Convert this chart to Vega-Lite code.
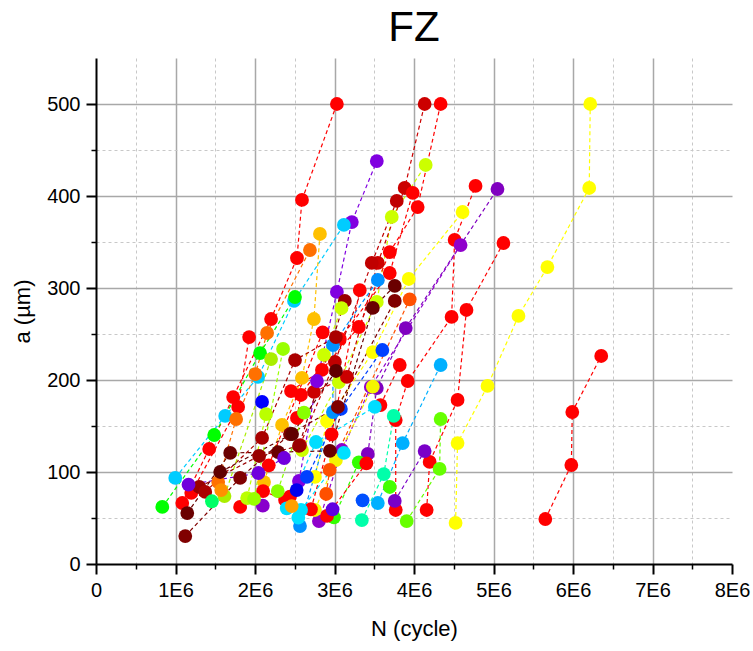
{
  "$schema": "https://vega.github.io/schema/vega-lite/v6.json",
  "width": 636,
  "height": 506,
  "autosize": "none",
  "padding": {"left": 96, "top": 58, "right": 21, "bottom": 87},
  "background": "white",
  "title": {"text": "FZ", "fontSize": 42, "fontWeight": "normal", "font": "Liberation Sans", "color": "black", "anchor": "middle", "frame": "group", "baseline": "bottom", "offset": -34},
  "config": {
    "view": {"stroke": null},
    "axis": {"labelFont": "Liberation Sans", "titleFont": "Liberation Sans", "labelColor": "black", "titleColor": "black", "titleFontWeight": "normal"}
  },
  "data": {"values": [
    {"s":"s1","N":4523000,"a":44.6},{"s":"s1","N":4548000,"a":131.5},{"s":"s1","N":4925000,"a":193.5},{"s":"s1","N":5314000,"a":269.6},{"s":"s1","N":5678000,"a":322.8},{"s":"s1","N":6204000,"a":408.7},{"s":"s1","N":6217000,"a":500},
    {"s":"s2","N":5652000,"a":48.9},{"s":"s2","N":5979000,"a":107.6},{"s":"s2","N":5991000,"a":165.2},{"s":"s2","N":6355000,"a":226.1},
    {"s":"s3","N":4159000,"a":58.7},{"s":"s3","N":4197000,"a":110.9},{"s":"s3","N":4548000,"a":178.3},{"s":"s3","N":4660000,"a":276.1},{"s":"s3","N":5125000,"a":348.9},
    {"s":"s4","N":3770000,"a":58.7},{"s":"s4","N":3770000,"a":156.5},{"s":"s4","N":3921000,"a":198.9},{"s":"s4","N":4473000,"a":268.5},{"s":"s4","N":4511000,"a":352.2},{"s":"s4","N":4774000,"a":410.9},
    {"s":"s5","N":3419000,"a":119.6},{"s":"s5","N":3532000,"a":191.3},{"s":"s5","N":3896000,"a":256.5},{"s":"s5","N":5050000,"a":407.6},
    {"s":"s6","N":2804000,"a":46.7},{"s":"s6","N":3093000,"a":123.9},{"s":"s6","N":3457000,"a":192.4},{"s":"s6","N":4586000,"a":346.7},
    {"s":"s7","N":3758000,"a":68.5},{"s":"s7","N":4134000,"a":122.8},
    {"s":"s8","N":2754000,"a":94.6},{"s":"s8","N":2905000,"a":155.4},{"s":"s8","N":3482000,"a":230.4},{"s":"s8","N":3934000,"a":309.8},{"s":"s8","N":4611000,"a":382.6},
    {"s":"s9","N":2754000,"a":58.7},{"s":"s9","N":3018000,"a":113},{"s":"s9","N":3482000,"a":192.7},
    {"s":"s10","N":2591000,"a":123.9},{"s":"s10","N":3055000,"a":197.8},{"s":"s10","N":3532000,"a":284.8},{"s":"s10","N":3720000,"a":377.2},{"s":"s10","N":4147000,"a":433.7},
    {"s":"s11","N":2453000,"a":188},{"s":"s11","N":2842000,"a":210.9},{"s":"s11","N":3306000,"a":257.6},{"s":"s11","N":3695000,"a":339.1},{"s":"s11","N":4046000,"a":388},{"s":"s11","N":4335000,"a":500},
    {"s":"s12","N":2741000,"a":187},{"s":"s12","N":3156000,"a":203.3},{"s":"s12","N":3545000,"a":327.2},{"s":"s12","N":3883000,"a":408.7},{"s":"s12","N":4134000,"a":500},
    {"s":"s13","N":2528000,"a":158.7},{"s":"s13","N":2578000,"a":183.7},{"s":"s13","N":3067000,"a":244.6},{"s":"s13","N":3695000,"a":316.3},{"s":"s13","N":3984000,"a":403.3},
    {"s":"s14","N":2566000,"a":129.3},{"s":"s14","N":3005000,"a":219.6},{"s":"s14","N":3469000,"a":327.2},{"s":"s14","N":3783000,"a":394.6},
    {"s":"s15","N":1085000,"a":66.3},{"s":"s15","N":1424000,"a":125},{"s":"s15","N":1725000,"a":181.5},{"s":"s15","N":2202000,"a":266.3},{"s":"s15","N":2528000,"a":332.6},{"s":"s15","N":2591000,"a":395.7},{"s":"s15","N":3030000,"a":500},
    {"s":"s16","N":1198000,"a":77.2},{"s":"s16","N":1788000,"a":170.7},{"s":"s16","N":1926000,"a":246.7},
    {"s":"s17","N":2553000,"a":90.2},{"s":"s17","N":2779000,"a":198.9},{"s":"s17","N":3030000,"a":295.7},{"s":"s17","N":3218000,"a":371.7},{"s":"s17","N":3532000,"a":438},
    {"s":"s18","N":997000,"a":93.5},{"s":"s18","N":1625000,"a":160.9},{"s":"s18","N":2039000,"a":203.3},{"s":"s18","N":2491000,"a":285.9},{"s":"s18","N":3118000,"a":368.5},
    {"s":"s19","N":2114000,"a":89.1},{"s":"s19","N":2340000,"a":151.1},{"s":"s19","N":2591000,"a":202.2},{"s":"s19","N":2741000,"a":266.3},{"s":"s19","N":2817000,"a":358.7},
    {"s":"s20","N":1537000,"a":89.1},{"s":"s20","N":1763000,"a":157.6},{"s":"s20","N":2004000,"a":206.5},{"s":"s20","N":2152000,"a":251.1},{"s":"s20","N":2691000,"a":341.3},
    {"s":"s21","N":834000,"a":62},{"s":"s21","N":1487000,"a":140.2},{"s":"s21","N":2064000,"a":229.3},{"s":"s21","N":2503000,"a":290.2},
    {"s":"s22","N":2566000,"a":41.3},{"s":"s22","N":2980000,"a":165.2},{"s":"s22","N":2980000,"a":238},{"s":"s22","N":3545000,"a":308.7},
    {"s":"s23","N":2653000,"a":94.6},{"s":"s23","N":3080000,"a":168.5},{"s":"s23","N":3602000,"a":232.6},
    {"s":"s24","N":3545000,"a":66.3},{"s":"s24","N":3858000,"a":131.5},{"s":"s24","N":4335000,"a":216.3},
    {"s":"s25","N":3908000,"a":46.7},{"s":"s25","N":4322000,"a":103.3},{"s":"s25","N":4335000,"a":157.6},
    {"s":"s26","N":3344000,"a":47.8},{"s":"s26","N":3620000,"a":97.8},{"s":"s26","N":3745000,"a":160.9},
    {"s":"s27","N":2993000,"a":50.7},{"s":"s27","N":3306000,"a":110.5},
    {"s":"s28","N":3695000,"a":83.7},
    {"s":"s29","N":1123000,"a":30.4},{"s":"s29","N":1813000,"a":93.5},{"s":"s29","N":2440000,"a":141.3},{"s":"s29","N":3043000,"a":170.7},{"s":"s29","N":3758000,"a":285.9},
    {"s":"s30","N":1148000,"a":55.4},{"s":"s30","N":1688000,"a":120.7},{"s":"s30","N":2290000,"a":121.7},{"s":"s30","N":2942000,"a":123},{"s":"s30","N":3482000,"a":278.3},{"s":"s30","N":3758000,"a":302.2},
    {"s":"s31","N":1299000,"a":83.7},{"s":"s31","N":2052000,"a":117.4},{"s":"s31","N":2553000,"a":128.3},{"s":"s31","N":3130000,"a":285.9},
    {"s":"s32","N":1374000,"a":78.3},{"s":"s32","N":2089000,"a":137},{"s":"s32","N":2503000,"a":221.7},{"s":"s32","N":3017000,"a":246.7},
    {"s":"s33","N":1562000,"a":100},{"s":"s33","N":2466000,"a":141.3},{"s":"s33","N":3018000,"a":209.8},
    {"s":"s34","N":1813000,"a":62},{"s":"s34","N":2102000,"a":79.3},{"s":"s34","N":2378000,"a":69.6},
    {"s":"s35","N":2906000,"a":52.2},{"s":"s35","N":3401000,"a":109.4},
    {"s":"s36","N":2704000,"a":59.5},{"s":"s36","N":2963000,"a":141},{"s":"s36","N":3318000,"a":297.8},
    {"s":"s37","N":2173000,"a":107.3},{"s":"s37","N":2851000,"a":251.8},
    {"s":"s38","N":2440000,"a":73.2},
    {"s":"s39","N":3578000,"a":172.8},{"s":"s39","N":3821000,"a":216.3},
    {"s":"s40","N":1616000,"a":73.9},{"s":"s40","N":2202000,"a":222.8},
    {"s":"s41","N":1164000,"a":86.2},{"s":"s41","N":2043000,"a":98.9},{"s":"s41","N":2366000,"a":115.2},
    {"s":"s42","N":2098000,"a":63.4},
    {"s":"s43","N":2399000,"a":60.5},{"s":"s43","N":2767000,"a":132.6},{"s":"s43","N":3507000,"a":170.7},
    {"s":"s44","N":2545000,"a":50.3},{"s":"s44","N":2579000,"a":58.7},{"s":"s44","N":3118000,"a":120.7},
    {"s":"s45","N":2089000,"a":176.1},
    {"s":"s46","N":1901000,"a":71.7},{"s":"s46","N":2139000,"a":163},
    {"s":"s47","N":2286000,"a":79.3},{"s":"s47","N":2616000,"a":164.5},
    {"s":"s48","N":1988000,"a":70.7},{"s":"s48","N":2353000,"a":233.7},
    {"s":"s49","N":1458000,"a":68.2},
    {"s":"s50","N":2462000,"a":63},
    {"s":"s51","N":1575000,"a":80.4},
    {"s":"s52","N":2896000,"a":76.1},{"s":"s52","N":2939000,"a":102.2},{"s":"s52","N":3946000,"a":287.7},
    {"s":"s53","N":3353000,"a":69.2},
    {"s":"s54","N":2524000,"a":80.4},
    {"s":"s55","N":2976000,"a":59.5},
    {"s":"s56","N":2867000,"a":227.2},{"s":"s56","N":3088000,"a":278}
  ]},
  "layer": [
    {
      "mark": {"type": "line", "strokeDash": [4, 3], "strokeWidth": 1.2},
      "encoding": {
        "x": {"field": "N", "type": "quantitative", "scale": {"domain": [0, 8000000], "nice": false},
              "axis": {"values": [1000000, 2000000, 3000000, 4000000, 5000000, 6000000, 7000000], "grid": true, "gridColor": "#A8A8A8", "gridWidth": 1.5, "ticks": false, "labels": false, "domain": false, "title": null, "orient": "bottom"}},
        "y": {"field": "a", "type": "quantitative", "scale": {"domain": [0, 550], "nice": false},
              "axis": {"values": [100, 200, 300, 400, 500], "grid": true, "gridColor": "#A8A8A8", "gridWidth": 1.5, "ticks": false, "labels": false, "domain": false, "title": null, "orient": "left"}},
        "color": {"field": "s", "type": "nominal", "legend": null,
          "scale": {
            "domain": ["s1","s2","s3","s4","s5","s6","s7","s8","s9","s10","s11","s12","s13","s14","s15","s16","s17","s18","s19","s20","s21","s22","s23","s24","s25","s26","s27","s28","s29","s30","s31","s32","s33","s34","s35","s36","s37","s38","s39","s40","s41","s42","s43","s44","s45","s46","s47","s48","s49","s50","s51","s52","s53","s54","s55","s56"],
            "range": ["#FFFF00","#FF0000","#FF0000","#FF0000","#8000C0","#9000CC","#7A00C8","#FFFF00","#F5F500","#CCFF00","#FF0000","#CC0000","#FF0000","#C00000","#FF0000","#FF0000","#8000E0","#00CCFF","#FFC000","#FF7000","#00FF00","#0090FF","#0040FF","#00B0FF","#66FF00","#00FFAA","#33FF00","#44FF00","#800000","#6A0000","#990000","#AA0000","#600000","#FF0000","#FF0000","#FF0000","#FF0000","#FF0000","#FF0000","#AAEE00","#7000DD","#8800CC","#00DDFF","#00E0FF","#0000FF","#BBFF00","#88FF00","#99FF00","#00FF66","#FFA000","#FF9000","#FF5000","#0050FF","#0000EE","#6000E0","#CCFF00"]
          }},
        "order": [{"field": "N"}, {"field": "a"}]
      }
    },
    {
      "mark": {"type": "point", "filled": true, "opacity": 0, "size": 1},
      "encoding": {
        "x": {"field": "N", "type": "quantitative",
              "axis": {"values": [500000, 1500000, 2500000, 3500000, 4500000, 5500000, 6500000, 7500000], "grid": true, "gridColor": "#C8C8C8", "gridWidth": 1, "gridDash": [3, 3], "ticks": true, "tickSize": 5, "tickWidth": 1.5, "tickColor": "black", "labels": false, "domain": false, "title": null, "orient": "bottom"}},
        "y": {"field": "a", "type": "quantitative",
              "axis": {"values": [50, 150, 250, 350, 450], "grid": true, "gridColor": "#C8C8C8", "gridWidth": 1, "gridDash": [3, 3], "ticks": true, "tickSize": 5, "tickWidth": 1.5, "tickColor": "black", "labels": false, "domain": false, "title": null, "orient": "left"}}
      }
    },
    {
      "mark": {"type": "point", "filled": true, "opacity": 1, "size": 190, "shape": "circle"},
      "encoding": {
        "x": {"field": "N", "type": "quantitative",
              "axis": {"values": [0, 1000000, 2000000, 3000000, 4000000, 5000000, 6000000, 7000000, 8000000], "labelExpr": "datum.value == 0 ? '0' : format(datum.value / 1000000, 'd') + 'E6'", "grid": false, "tickSize": 10, "tickWidth": 2, "tickColor": "black", "domainColor": "black", "domainWidth": 2, "labelFontSize": 20, "labelPadding": 6, "labelFlush": false, "labelOverlap": false, "title": "N (cycle)", "titleFontSize": 22, "titlePadding": 18, "orient": "bottom"}},
        "y": {"field": "a", "type": "quantitative",
              "axis": {"values": [0, 100, 200, 300, 400, 500], "grid": false, "tickSize": 10, "tickWidth": 2, "tickColor": "black", "domainColor": "black", "domainWidth": 2, "labelFontSize": 20, "labelPadding": 6, "labelOverlap": false, "title": "a (µm)", "titleFontSize": 22, "titlePadding": 12, "orient": "left"}},
        "color": {"field": "s", "type": "nominal", "legend": null}
      }
    }
  ],
  "resolve": {"axis": {"x": "independent", "y": "independent"}}
}
